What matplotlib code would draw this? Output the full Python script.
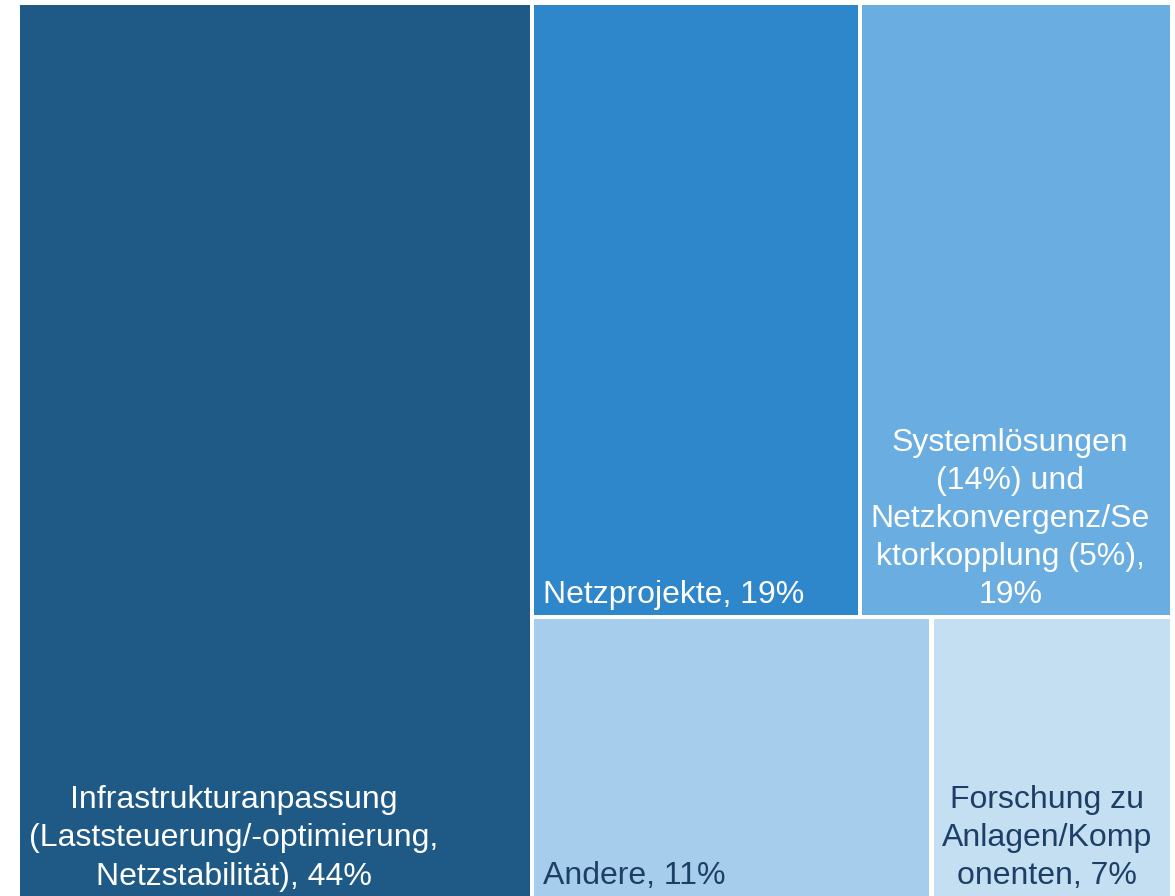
import matplotlib
matplotlib.use("Agg")
import matplotlib.pyplot as plt
from matplotlib.patches import Rectangle

# ---- data ----
labels = [
    "Infrastrukturanpassung\n(Laststeuerung/-optimierung,\nNetzstabilität), 44%",
    "Netzprojekte, 19%",
    "Systemlösungen\n(14%) und\nNetzkonvergenz/Se\nktorkopplung (5%),\n19%",
    "Andere, 11%",
    "Forschung zu\nAnlagen/Komp\nonenten, 7%",
]
values = [44.5, 19.6, 18.5, 10.9, 6.5]
colors = ["#1F5A87", "#2E86CB", "#6AADE0", "#A7CDEC", "#C4DEF2"]
text_colors = ["white", "white", "white", "#1D3F66", "#1D3F66"]
halign = ["center", "left", "center", "left", "center"]
label_dx = [-41, 0, -6, 0, -5]

# ---- layout (treemap: one column, then two rows of two) ----
W, H = 1175, 896
fig = plt.figure(figsize=(W / 100, H / 100), dpi=100)
ax = fig.add_axes([0, 0, 1, 1])
ax.set_xlim(0, W)
ax.set_ylim(H, 0)
ax.axis("off")

x0, x1 = 20.0, 1170.0
y0, y1 = 5.5, 896.5
gap = 4.5
total = sum(values)

rects = []
# first item: full-height column
wcol = (x1 - x0) * values[0] / total
rects.append((x0, y0, wcol, y1 - y0))
rx0 = x0 + wcol
rest = total - values[0]
# remaining: rows of pairs
top_sum = values[1] + values[2]
h_top = (y1 - y0) * top_sum / rest
rows = [((values[1], values[2]), y0, h_top), ((values[3], values[4]), y0 + h_top, (y1 - y0) - h_top)]
for pair, ry, rh in rows:
    cx = rx0
    s = sum(pair)
    for v in pair:
        rw = (x1 - rx0) * v / s
        rects.append((cx, ry, rw, rh))
        cx += rw

for i, (rx, ry, rw, rh) in enumerate(rects):
    # apply gaps on internal edges
    left = rx + (gap / 2 if rx > x0 + 1 else 0)
    right = rx + rw - (gap / 2 if rx + rw < x1 - 1 else 0)
    top = ry + (gap / 2 if ry > y0 + 1 else 0)
    bottom = ry + rh - (gap / 2 if ry + rh < y1 - 1 else 0)
    ax.add_patch(Rectangle((left, top), right - left, bottom - top,
                           facecolor=colors[i], edgecolor="none"))
    if halign[i] == "left":
        tx = left + 9
    else:
        tx = (left + right) / 2 + label_dx[i]
    ax.text(tx, bottom - 5, labels[i], ha=halign[i], va="bottom",
            multialignment="center", color=text_colors[i],
            fontsize=23, family=["Liberation Sans", "DejaVu Sans"],
            linespacing=1.35)

fig.savefig("out.png", dpi=100)
